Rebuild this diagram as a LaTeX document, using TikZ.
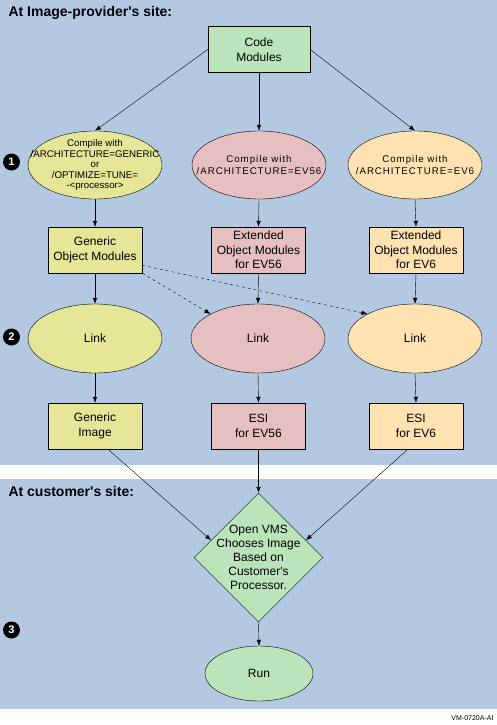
\documentclass[tikz,border=0pt]{standalone}
\usepackage{fontspec}
\setmainfont{Liberation Sans}
\usetikzlibrary{shapes.geometric,arrows.meta}
\definecolor{panelblue}{RGB}{179,201,226}
\definecolor{codegreen}{RGB}{187,228,187}
\definecolor{genyellow}{RGB}{230,230,153}
\definecolor{evpink}{RGB}{230,191,192}
\definecolor{evpeach}{RGB}{255,226,178}
\tikzset{
 box/.style={draw,rectangle,minimum width=94pt,minimum height=46pt,inner sep=0pt,align=center,font=\fontsize{12}{14.5}\selectfont},
 oval/.style={draw,ellipse,minimum width=134pt,minimum height=68pt,inner xsep=-20pt,inner ysep=-10pt,align=center,font=\fontsize{9.7}{10.5}\selectfont},
 linkoval/.style={oval,minimum height=69pt,font=\fontsize{12}{14}\selectfont},
 flow/.style={-{Latex[length=6pt,width=4.5pt]}},
 sitelabel/.style={anchor=west,font=\bfseries\fontsize{14}{14}\selectfont},
}
\newcommand{\callout}[3]{%
 \node[circle,fill=black,text=white,inner sep=0pt,minimum size=17pt,font=\bfseries\fontsize{11}{11}\selectfont] ({#1}) at ({#2}) {#3};%
}
\newcommand{\spaced}{\addfontfeature{LetterSpace=10}}
\newcommand{\tick}{\textquotesingle}
\begin{document}
\begin{tikzpicture}[x=1pt,y=-1pt]
   \useasboundingbox (0,0) rectangle (497,725);
   \fill[panelblue] (0,0) rectangle (497,465);
   \fill[panelblue] (0,479) rectangle (497,709);
   \node[sitelabel] (provider) at (5,13) {At Image-provider\tick s site:};
   \node[sitelabel] (customer) at (5,491) {At customer\tick s site:};
   \node[anchor=east,font=\fontsize{7}{7}\selectfont] (figid) at (497,718) {VM-0720A-AI};
   \callout{c1}{11.5,162}{1};
   \callout{c2}{11.5,337}{2};
   \callout{c3}{11.5,630}{3};
   \node[box,fill=codegreen,minimum width=102pt] (code) at (259,49.5) {Code\\Modules};
   \node[oval,fill=genyellow] (comp1) at (95,165) {Compile with\\/ARCHITECTURE=GENERIC\\or\\/OPTIMIZE=TUNE=\\-<processor>};
   \node[oval,fill=evpink,font=\fontsize{9.7}{12}\selectfont\spaced] (comp2) at (259,165) {Compile with\\/ARCHITECTURE=EV56};
   \node[oval,fill=evpeach,font=\fontsize{9.7}{12}\selectfont\spaced] (comp3) at (415,165) {Compile with\\/ARCHITECTURE=EV6};
   \node[box,fill=genyellow] (obj1) at (95,250) {Generic\\Object Modules};
   \node[box,fill=evpink] (obj2) at (258.5,250) {Extended\\Object Modules\\for EV56};
   \node[box,fill=evpeach] (obj3) at (416,250) {Extended\\Object Modules\\for EV6};
   \node[linkoval,fill=genyellow] (link1) at (95,338.5) {Link};
   \node[linkoval,fill=evpink] (link2) at (258,338.5) {Link};
   \node[linkoval,fill=evpeach] (link3) at (415,338.5) {Link};
   \node[box,fill=genyellow] (img1) at (95,426) {Generic\\Image};
   \node[box,fill=evpink] (img2) at (258.5,426) {ESI\\for EV56};
   \node[box,fill=evpeach] (img3) at (416,426) {ESI\\for EV6};
   \node[draw,diamond,fill=codegreen,minimum width=129pt,minimum height=129pt,inner sep=-15pt,align=center,font=\fontsize{12}{14}\selectfont] (choose) at (258.5,557.5) {Open VMS\\Chooses Image\\Based on\\Customer\tick s\\Processor.};
   \node[draw,ellipse,fill=codegreen,minimum width=108pt,minimum height=55pt,inner sep=0pt,font=\fontsize{12}{14}\selectfont] (run) at (259,673.5) {Run};
   \draw[flow] (code.west) -- (comp1.north);
   \draw[flow] (code.south) -- (comp2.north);
   \draw[flow] (code.east) -- (comp3.north);
   \foreach \i in {1,2,3} {
     \draw[flow] (comp\i.south) -- (obj\i.north);
     \draw[flow] (obj\i.south) -- (link\i.north);
     \draw[flow] (link\i.south) -- (img\i.north);
   }
   \draw[flow,dashed] (obj1.south east) -- (link2.north west);
   \draw[flow,dashed] (obj1.-18) -- (link3.north west);
   \draw[flow] ([xshift=13pt]img1.south) -- (choose.160);
   \draw[flow] (img2.south) -- (choose.north);
   \draw[flow] ([xshift=-8pt]img3.south) -- (choose.20);
   \draw[flow] (choose.south) -- (run.north);
\end{tikzpicture}
\end{document}
